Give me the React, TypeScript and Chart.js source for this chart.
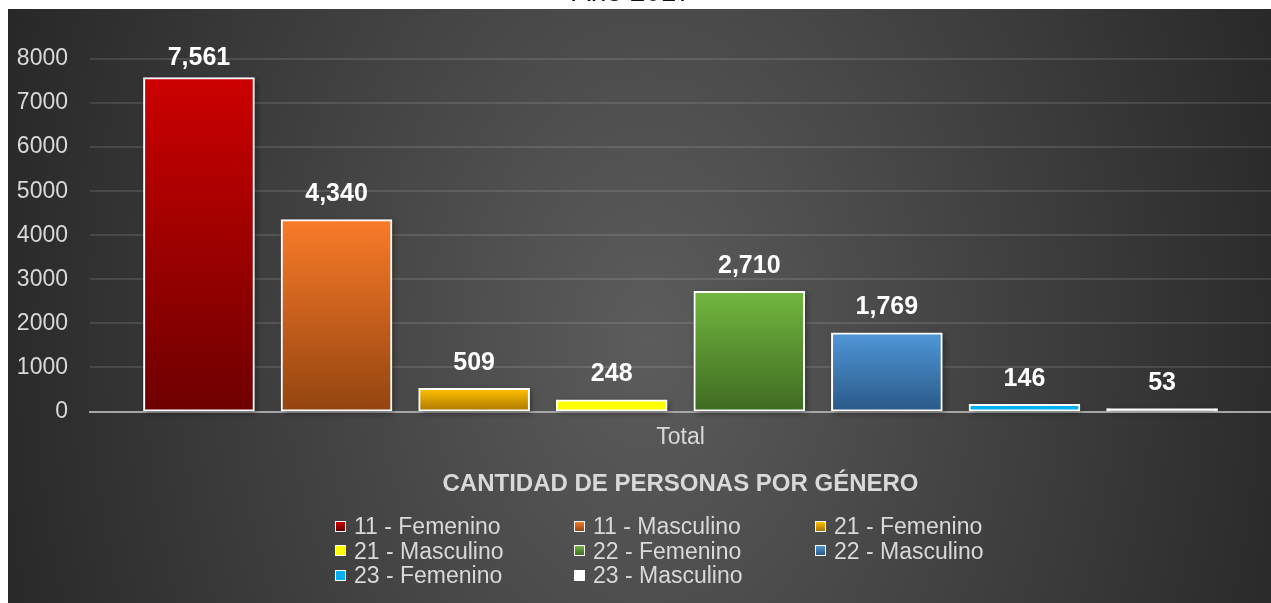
import { useEffect, useRef } from "react";
import { Chart, registerables } from "chart.js";

Chart.register(...registerables);

const chartTitle = "Año 2017";
const axisTitle = "CANTIDAD DE PERSONAS POR GÉNERO";
const categories = ["Total"];
const seriesNames = [
  "11 - Femenino",
  "11 - Masculino",
  "21 - Femenino",
  "21 - Masculino",
  "22 - Femenino",
  "22 - Masculino",
  "23 - Femenino",
  "23 - Masculino",
];
const seriesValues = [7561, 4340, 509, 248, 2710, 1769, 146, 53];
const yTickValues = [0, 1000, 2000, 3000, 4000, 5000, 6000, 7000, 8000];

const topColors = ["#cc0000", "#f97b28", "#ffc000", "#ffff00", "#72b73f", "#4f96d8", "#00b0f0", "#ffffff"];
const bottomColors = ["#6e0000", "#934410", "#aa7500", "#ffff00", "#3e6a21", "#2a5987", "#00b0f0", "#ffffff"];

const FONT = '"Liberation Sans", Arial, sans-serif';
const TEXT = "#d9d9d9";
const W = 1263;
const H = 594;
const LEG_X = [327, 566, 807];
const LEG_Y0 = 505;
const LEG_DY = 24.5;

const bgPlugin = {
  id: "bgGradient",
  beforeDraw(chart: any) {
    const { ctx, width, height } = chart;
    const cx = 640;
    const cy = 330;
    const k = 1000 / 700;
    ctx.save();
    ctx.translate(cx, cy);
    ctx.scale(1, k);
    const g = ctx.createRadialGradient(0, 0, 0, 0, 0, 700);
    g.addColorStop(0, "#5c5c5c");
    g.addColorStop(1, "#262626");
    ctx.fillStyle = g;
    ctx.fillRect(-cx, -cy / k, width, height / k);
    ctx.restore();
  },
};

const barsFxPlugin = {
  id: "barsFx",
  beforeDatasetsDraw(chart: any) {
    const ctx = chart.ctx;
    ctx.save();
    ctx.shadowColor = "rgba(0,0,0,0.45)";
    ctx.shadowBlur = 6;
    ctx.shadowOffsetX = 2;
    ctx.shadowOffsetY = 2;
    ctx.fillStyle = "#333333";
    chart.data.datasets.forEach((_: any, i: number) => {
      const meta = chart.getDatasetMeta(i);
      meta.data.forEach((el: any) => {
        const { x, y, base, width } = el.getProps(["x", "y", "base", "width"], true);
        ctx.fillRect(x - width / 2, Math.min(y, base), width, Math.abs(base - y));
      });
    });
    ctx.restore();
  },
  afterDatasetsDraw(chart: any) {
    const ctx = chart.ctx;
    const top = chart.chartArea.top;
    ctx.save();
    ctx.font = `bold 25px ${FONT}`;
    ctx.fillStyle = "#ffffff";
    ctx.textAlign = "center";
    ctx.textBaseline = "middle";
    chart.data.datasets.forEach((ds: any, i: number) => {
      const meta = chart.getDatasetMeta(i);
      meta.data.forEach((el: any, j: number) => {
        const v = ds.data[j] as number;
        const { x, y } = el.getProps(["x", "y"], true);
        const ly = Math.max(y - 26, top - 1);
        ctx.fillText(v.toLocaleString("en-US"), x, ly);
      });
    });
    ctx.restore();
  },
};

function barGradient(c: any, i: number) {
  const chart = c.chart;
  const yScale = chart.scales?.y;
  if (!chart.chartArea || !yScale || typeof c.raw !== "number") return topColors[i];
  const top = yScale.getPixelForValue(c.raw);
  const bottom = yScale.getPixelForValue(0);
  if (!isFinite(top) || !isFinite(bottom) || top === bottom) return topColors[i];
  const g = chart.ctx.createLinearGradient(0, top, 0, bottom);
  g.addColorStop(0, topColors[i]);
  g.addColorStop(1, bottomColors[i]);
  return g;
}

export default function App() {
  const canvasRef = useRef<HTMLCanvasElement | null>(null);

  useEffect(() => {
    const canvas = canvasRef.current;
    if (!canvas) return;
    const chart = new Chart(canvas, {
      type: "bar",
      data: {
        labels: categories,
        datasets: seriesNames.map((name, i) => ({
          label: name,
          data: [seriesValues[i]],
          backgroundColor: (c: any) => barGradient(c, i),
          borderColor: "#ffffff",
          borderWidth: 2,
          borderSkipped: false,
          inflateAmount: 1,
          categoryPercentage: 0.932,
          barPercentage: 0.797,
        })),
      },
      options: {
        responsive: false,
        animation: false,
        devicePixelRatio: 1,
        layout: { padding: { top: 50, left: 0, right: 0, bottom: 0 } },
        plugins: {
          legend: { display: false },
          title: { display: false },
          tooltip: { enabled: false },
        },
        scales: {
          x: {
            grid: { display: false, drawTicks: false },
            border: { display: true, color: "#a6a6a6", width: 2 },
            ticks: { color: TEXT, font: { family: FONT, size: 23 }, padding: 12 },
            title: {
              display: true,
              text: axisTitle,
              color: TEXT,
              font: { family: FONT, size: 24, weight: "bold" },
              padding: { top: 0, bottom: 104 },
            },
            afterFit: (s: any) => {
              s.height = 191.5;
            },
          },
          y: {
            min: 0,
            max: 8000,
            afterBuildTicks: (s: any) => {
              s.ticks = yTickValues.map((v) => ({ value: v }));
            },
            ticks: {
              color: TEXT,
              font: { family: FONT, size: 23 },
              padding: 22,
              callback: (v: any) => String(v),
            },
            grid: { color: "rgba(255,255,255,0.11)", lineWidth: 2, drawTicks: false },
            border: { display: false },
            afterFit: (s: any) => {
              s.width = 82;
            },
          },
        },
      } as any,
      plugins: [bgPlugin, barsFxPlugin],
    });
    return () => chart.destroy();
  }, []);

  return (
    <>
      <div
        style={{
          position: "fixed",
          top: -22,
          left: 8,
          width: 1248,
          textAlign: "center",
          font: `28px ${FONT}`,
          lineHeight: "28px",
          color: "#111111",
          whiteSpace: "nowrap",
        }}
      >
        {chartTitle}
      </div>
      <div style={{ position: "fixed", left: 8, top: 9, width: W, height: H }}>
        <canvas ref={canvasRef} width={W} height={H} style={{ display: "block", width: W, height: H }} />
        {seriesNames.map((name, i) => (
          <div
            key={name}
            style={{
              position: "absolute",
              left: LEG_X[i % 3],
              top: LEG_Y0 + Math.floor(i / 3) * LEG_DY,
              height: 24,
              display: "flex",
              alignItems: "center",
              font: `23px ${FONT}`,
              lineHeight: "24px",
              color: TEXT,
              whiteSpace: "nowrap",
            }}
          >
            <span
              style={{
                display: "inline-block",
                width: 9,
                height: 9,
                border: "1px solid #ffffff",
                background: `linear-gradient(${topColors[i]}, ${bottomColors[i]})`,
                marginRight: 8,
                flex: "none",
              }}
            />
            {name}
          </div>
        ))}
      </div>
    </>
  );
}
